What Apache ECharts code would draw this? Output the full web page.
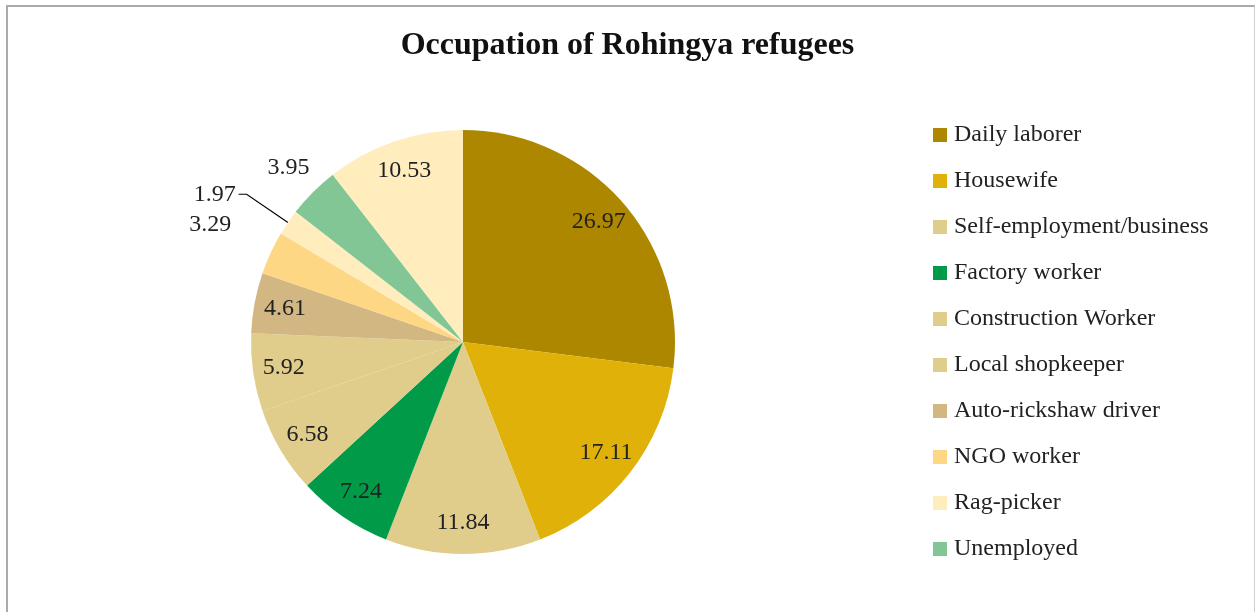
<!DOCTYPE html>
<html>
<head>
<meta charset="utf-8">
<script src="https://cdn.jsdelivr.net/npm/echarts@6/dist/echarts.min.js"></script>
<style>
  html, body { margin: 0; padding: 0; background: #fff; overflow: hidden; }
  .frame {
    position: absolute; left: 6px; top: 5px; width: 1246px; height: 640px;
    border-left: 2px solid #aaa; border-top: 2px solid #aaa; border-right: 1px solid #d0d0d0;
  }
  #chart { position: absolute; left: 0; top: 0; width: 1255px; height: 612px; }
</style>
</head>
<body>
<div class="frame"></div>
<div id="chart"></div>
<script>
// occupation shares (%), clockwise from 12 o'clock
const occupations = [
  "Daily laborer", "Housewife", "Self-employment/business", "Factory worker",
  "Construction Worker", "Local shopkeeper", "Auto-rickshaw driver", "NGO worker",
  "Rag-picker", "Unemployed", "Others"
];
const shares = [26.97, 17.11, 11.84, 7.24, 6.58, 5.92, 4.61, 3.29, 1.97, 3.95, 10.53];
const sliceColors = [
  "#ad8700", "#e0b108", "#e1cd8b", "#009a49", "#e1cd8b", "#e1cd8b",
  "#d3b783", "#fdd783", "#ffedbe", "#83c695", "#ffedbe"
];
// only the first ten show up in the legend
const legendNames = occupations.slice(0, 10);
// label groups
const leaderLabel = ["Rag-picker"];
const nearOutside = ["Unemployed"];
const farOutside = ["NGO worker"];

const font = "'Liberation Serif', 'DejaVu Serif', serif";
const center = [463, 342];
const R = 212;
const labelFont = { fontFamily: font, fontSize: 24, color: "#222" };

const chart = echarts.init(document.getElementById("chart"));

const mainData = occupations.map((name, i) => ({
  name: name,
  value: shares[i],
  itemStyle: { color: sliceColors[i] },
  label: { show: leaderLabel.indexOf(name) >= 0 },
  labelLine: { show: leaderLabel.indexOf(name) >= 0 }
}));

// invisible ring, only used to park labels at a given distance from the centre
function labelRing(r0, r1, names) {
  return {
    type: "pie",
    center: center,
    radius: [r0, r1],
    startAngle: 90,
    clockwise: true,
    silent: true,
    avoidLabelOverlap: false,
    itemStyle: { color: "rgba(0,0,0,0)", borderWidth: 0 },
    label: Object.assign({ position: "inside", formatter: "{c}" }, labelFont),
    labelLine: { show: false },
    emphasis: { disabled: true },
    data: occupations.map((name, i) => ({
      name: name,
      value: shares[i],
      label: { show: names.indexOf(name) >= 0 }
    }))
  };
}

const insideNames = occupations.filter(n =>
  leaderLabel.concat(nearOutside, farOutside).indexOf(n) < 0);

const option = {
  animation: false,
  title: {
    text: "Occupation of Rohingya refugees",
    left: "center",
    top: 25,
    textStyle: { fontFamily: font, fontSize: 32, fontWeight: "bold", color: "#111" }
  },
  legend: {
    data: legendNames,
    orient: "vertical",
    left: 928,
    top: 118,
    height: 480,
    itemWidth: 14,
    itemHeight: 14,
    itemGap: 22,
    icon: "rect",
    textStyle: { fontFamily: font, fontSize: 24, color: "#222", padding: [0, 0, 0, 2] },
    selectedMode: false
  },
  series: [
    {
      type: "pie",
      center: center,
      radius: R,
      startAngle: 90,
      clockwise: true,
      avoidLabelOverlap: false,
      itemStyle: { borderWidth: 0 },
      label: Object.assign({ position: "outside", formatter: "{c}", distanceToLabelLine: 3 }, labelFont),
      labelLine: {
        length: 50,
        length2: 8,
        lineStyle: { color: "#000", width: 1.2 }
      },
      emphasis: { disabled: true },
      data: mainData
    },
    labelRing(R * 0.68, R, insideNames),
    labelRing(R * 1.08, R * 1.22, nearOutside),
    labelRing(R * 1.22, R * 1.38, farOutside)
  ]
};

chart.setOption(option);
</script>
</body>
</html>
